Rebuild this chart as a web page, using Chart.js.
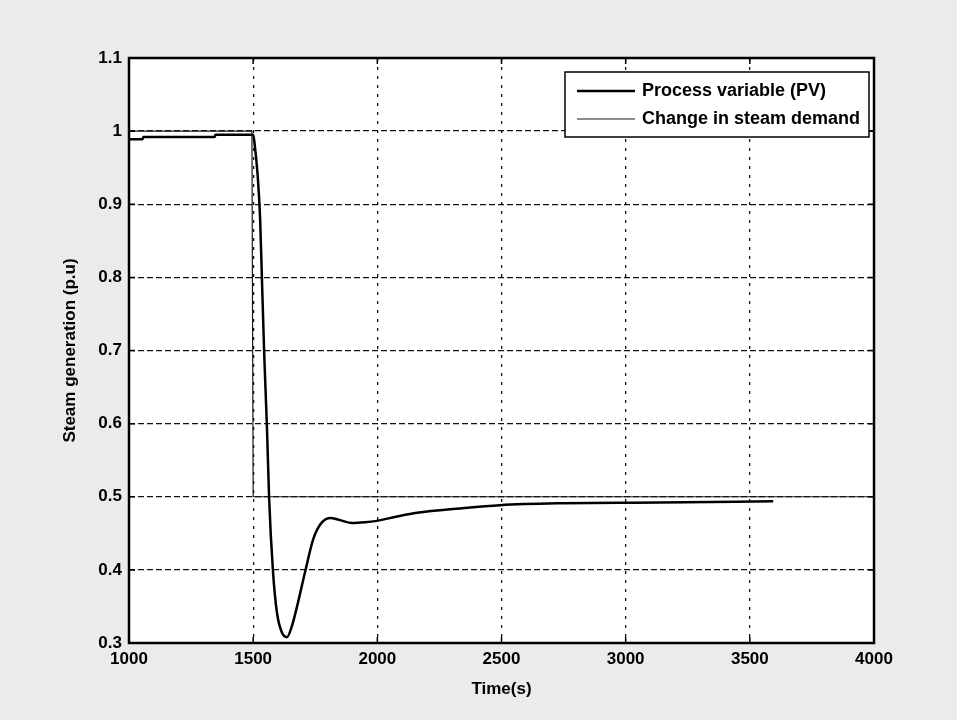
<!DOCTYPE html>
<html>
<head>
<meta charset="utf-8">
<script src="https://cdn.jsdelivr.net/npm/chart.js@4/dist/chart.umd.min.js"></script>
<style>
    body { margin: 0; background: #ebebeb; }
    #wrap { width: 957px; height: 720px; }
</style>
</head>
<body>
<div id="wrap"><canvas id="steamChart" width="957" height="720"></canvas></div>
<script>
// Steam generation response to a step change in steam demand
const pvTime = [1000, 1055, 1058, 1345, 1348, 1500, 1505, 1518, 1528, 1536, 1544, 1550, 1556, 1564,
    1580, 1596, 1615, 1636, 1655, 1676, 1709, 1741, 1770, 1809, 1850, 1898, 1950, 1998,
    2080, 2160, 2333, 2494, 2724, 3139, 3594];
const pvValues = [0.989, 0.989, 0.992, 0.992, 0.995, 0.995, 0.985, 0.94, 0.88, 0.79, 0.70, 0.645, 0.59, 0.50,
    0.397, 0.341, 0.315, 0.308, 0.322, 0.349, 0.397, 0.441, 0.462, 0.471, 0.468, 0.464, 0.465, 0.467,
    0.473, 0.478, 0.484, 0.4885, 0.491, 0.492, 0.494];

const demandTime = [1000, 1495, 1500, 4000];
const demandValues = [1.0, 1.0, 0.5, 0.5];

const xTicks = [1000, 1500, 2000, 2500, 3000, 3500, 4000];
const yTicks = [0.3, 0.4, 0.5, 0.6, 0.7, 0.8, 0.9, 1.0, 1.1];

const seriesLabels = ['Process variable (PV)', 'Change in steam demand'];

const toPoints = (xs, ys) => xs.map((x, i) => ({ x, y: ys[i] }));

// Grey page + white plot area
const backgroundPlugin = {
    id: 'plotBackground',
    beforeDraw(chart) {
        const { ctx, chartArea: a } = chart;
        ctx.save();
        ctx.fillStyle = '#ebebeb';
        ctx.fillRect(0, 0, chart.width, chart.height);
        ctx.fillStyle = '#ffffff';
        ctx.fillRect(a.left, a.top, a.right - a.left, a.bottom - a.top);
        ctx.restore();
    }
};

// MATLAB style box with inward ticks, plus boxed legend in the top right
const frameLegendPlugin = {
    id: 'frameLegend',
    afterDraw(chart) {
        const { ctx, chartArea: a, scales } = chart;
        ctx.save();
        ctx.strokeStyle = '#000';
        ctx.lineWidth = 1.5;
        xTicks.forEach(v => {
            const px = scales.x.getPixelForValue(v);
            ctx.beginPath();
            ctx.moveTo(px, a.bottom); ctx.lineTo(px, a.bottom - 6);
            ctx.moveTo(px, a.top); ctx.lineTo(px, a.top + 6);
            ctx.stroke();
        });
        yTicks.forEach(v => {
            const py = scales.y.getPixelForValue(v);
            ctx.beginPath();
            ctx.moveTo(a.left, py); ctx.lineTo(a.left + 6, py);
            ctx.moveTo(a.right, py); ctx.lineTo(a.right - 6, py);
            ctx.stroke();
        });
        ctx.lineWidth = 2.5;
        ctx.strokeRect(a.left, a.top, a.right - a.left, a.bottom - a.top);

        // legend box
        const bx = 565, by = 72, bw = 304, bh = 65;
        ctx.fillStyle = '#fff';
        ctx.fillRect(bx, by, bw, bh);
        ctx.lineWidth = 1.5;
        ctx.strokeRect(bx, by, bw, bh);
        ctx.font = 'bold 18px "Liberation Sans", Arial, sans-serif';
        ctx.textBaseline = 'middle';
        ctx.textAlign = 'left';
        chart.data.datasets.forEach((ds, i) => {
            const ly = by + 19 + i * 28;
            ctx.strokeStyle = ds.borderColor;
            ctx.lineWidth = ds.borderWidth;
            ctx.beginPath();
            ctx.moveTo(bx + 12, ly); ctx.lineTo(bx + 70, ly);
            ctx.stroke();
            ctx.fillStyle = '#000';
            ctx.fillText(ds.label, bx + 77, ly);
        });
        ctx.restore();
    }
};

const tickFont = { family: '"Liberation Sans", Arial, sans-serif', size: 17, weight: 'bold' };

new Chart(document.getElementById('steamChart').getContext('2d'), {
    type: 'line',
    data: {
        datasets: [
            {
                label: seriesLabels[0],
                data: toPoints(pvTime, pvValues),
                borderColor: '#000',
                borderWidth: 2.5,
                pointRadius: 0,
                cubicInterpolationMode: 'monotone',
                fill: false
            },
            {
                label: seriesLabels[1],
                data: toPoints(demandTime, demandValues),
                borderColor: '#1a1a1a',
                borderWidth: 1.2,
                pointRadius: 0,
                tension: 0,
                fill: false
            }
        ]
    },
    options: {
        responsive: false,
        animation: false,
        layout: { padding: { left: 0, top: 58, right: 83, bottom: 0 } },
        plugins: {
            legend: { display: false },
            tooltip: { enabled: false }
        },
        scales: {
            x: {
                type: 'linear',
                min: 1000,
                max: 4000,
                afterBuildTicks: scale => { scale.ticks = xTicks.map(value => ({ value })); },
                afterFit: scale => { scale.height = 77; },
                ticks: { color: '#000', font: tickFont, padding: 6, maxRotation: 0, callback: v => String(v) },
                grid: { color: '#111', lineWidth: 1.3, drawTicks: false },
                border: { display: false, dash: [3, 6] },
                title: {
                    display: true,
                    text: 'Time(s)',
                    color: '#000',
                    font: tickFont,
                    padding: { top: 0, bottom: 20 }
                }
            },
            y: {
                min: 0.3,
                max: 1.1,
                afterBuildTicks: scale => { scale.ticks = yTicks.map(value => ({ value })); },
                afterFit: scale => { scale.width = 129; },
                ticks: {
                    color: '#000',
                    font: tickFont,
                    padding: 7,
                    callback: v => String(Number(v.toFixed(1)))
                },
                grid: { color: '#111', lineWidth: 1.3, drawTicks: false },
                border: { display: false, dash: [6, 3] },
                title: {
                    display: true,
                    text: 'Steam generation (p.u)',
                    color: '#000',
                    font: tickFont,
                    padding: { top: 60, bottom: 0 }
                }
            }
        }
    },
    plugins: [backgroundPlugin, frameLegendPlugin]
});
</script>
</body>
</html>
